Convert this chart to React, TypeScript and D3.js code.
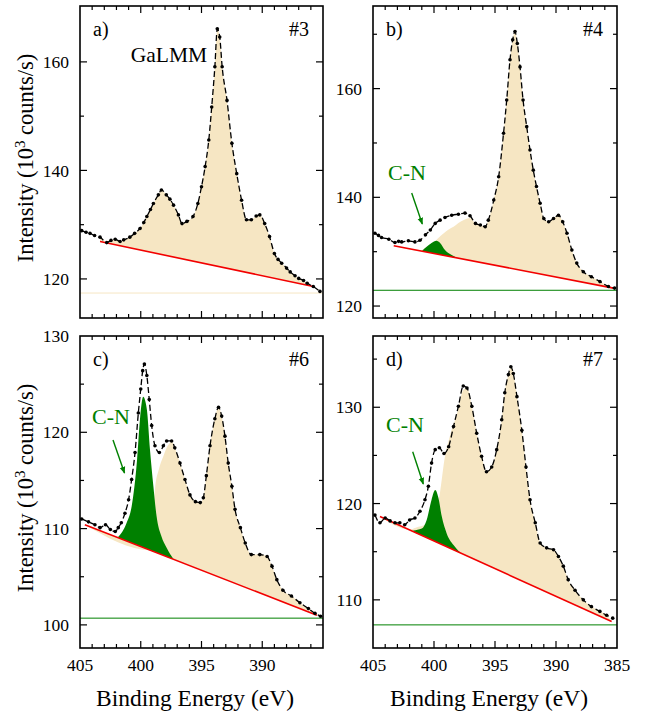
import React from "react";
import * as d3 from "d3";

type P = [number, number];

// ---------- data (binding energy eV, intensity 10^3 counts/s) ----------
const dataA: P[] = [[404.86,128.9],[404.5,128.6],[404.18,128.4],[403.8,128.0],[403.35,127.7],[402.8,126.7],[402.45,127.1],[402.1,127.3],[401.7,126.9],[401.4,127.2],[400.9,127.7],[400.5,128.4],[400.06,129.3],[399.75,130.4],[399.5,131.5],[399.2,132.8],[398.96,133.9],[398.55,135.5],[398.3,136.4],[397.9,135.5],[397.6,134.7],[397.3,133.6],[396.9,131.8],[396.6,130.2],[396.2,130.6],[395.7,131.5],[395.3,133.9],[395.0,137.0],[394.7,140.7],[394.4,145.6],[394.16,151.7],[393.9,159.1],[393.7,166.1],[393.5,164.6],[393.3,159.1],[392.9,152.9],[392.5,145.0],[392.1,139.4],[391.7,134.5],[391.3,130.9],[390.9,130.9],[390.5,131.6],[390.2,131.8],[389.8,130.2],[389.4,127.8],[389.0,124.7],[388.7,123.6],[388.4,122.9],[388.0,122.0],[387.7,121.3],[387.3,120.6],[387.0,120.1],[386.6,119.7],[386.3,119.2],[385.8,118.6],[385.25,117.7]];

const dataB: P[] = [[404.84,133.4],[404.55,133.0],[404.3,132.6],[403.7,132.3],[403.2,131.7],[402.9,131.9],[402.65,131.8],[402.1,132.0],[401.56,131.8],[401.15,132.1],[400.7,133.1],[400.3,134.0],[399.9,135.2],[399.5,135.8],[399.1,136.3],[398.55,136.7],[398.0,136.9],[397.46,137.1],[397.05,136.6],[396.6,135.2],[396.2,134.9],[395.8,134.6],[395.55,135.8],[395.1,139.5],[394.7,143.8],[394.3,151.8],[394.04,157.9],[393.77,165.3],[393.55,169.0],[393.36,170.5],[393.17,168.3],[392.95,164.0],[392.7,157.9],[392.4,153.0],[392.13,148.7],[391.86,145.0],[391.6,142.0],[391.3,138.9],[391.0,136.1],[390.6,135.5],[390.2,136.1],[389.8,136.7],[389.45,135.5],[389.1,133.4],[388.7,130.3],[388.3,127.9],[387.76,126.3],[387.1,125.4],[386.4,124.5],[385.7,123.6],[385.2,123.3]];

const dataC: P[] = [[404.86,111.0],[404.3,110.7],[403.77,110.4],[403.35,110.1],[402.9,110.4],[402.5,109.9],[402.1,109.7],[401.85,110.1],[401.6,110.6],[401.3,111.6],[401.0,113.0],[400.75,115.1],[400.47,117.9],[400.2,122.0],[400.0,124.5],[399.84,126.4],[399.7,127.1],[399.5,125.9],[399.3,123.4],[399.1,120.7],[398.83,118.6],[398.47,117.9],[398.14,118.6],[397.87,119.1],[397.46,119.1],[397.2,118.4],[396.77,116.8],[396.36,115.1],[395.95,113.5],[395.5,112.8],[395.1,112.7],[394.85,113.2],[394.6,115.5],[394.3,118.6],[393.9,121.4],[393.6,122.6],[393.34,121.7],[393.07,119.6],[392.8,116.8],[392.5,114.4],[392.24,112.0],[391.8,110.1],[391.4,108.5],[390.9,107.3],[390.2,107.3],[389.6,107.1],[389.2,106.1],[388.8,104.7],[388.3,103.6],[387.6,103.0],[386.9,102.3],[386.2,101.7],[385.66,101.2],[385.2,100.9]];

const dataD: P[] = [[404.84,118.8],[404.43,118.0],[404.0,118.5],[403.6,118.2],[403.2,118.0],[402.8,118.0],[402.4,117.8],[402.0,118.3],[401.56,118.5],[401.15,119.2],[400.74,120.4],[400.46,121.8],[400.2,124.2],[399.9,125.6],[399.56,125.8],[399.18,125.2],[398.8,125.9],[398.4,128.0],[398.0,130.1],[397.6,132.2],[397.3,132.0],[396.9,130.1],[396.5,127.3],[396.1,124.9],[395.7,123.3],[395.27,123.8],[394.86,125.6],[394.45,128.7],[394.2,131.5],[393.9,133.4],[393.7,134.2],[393.5,133.5],[393.2,131.1],[392.8,127.6],[392.46,123.8],[392.13,120.4],[391.7,118.0],[391.3,115.9],[390.77,115.4],[390.2,115.2],[389.8,114.5],[389.4,113.5],[389.0,112.1],[388.44,111.0],[387.76,110.0],[387.1,109.3],[386.4,108.8],[385.85,108.4],[385.35,108.1]];

// GaLMM envelope (left parts that depart from the data)
const gaLeftB: P[] = [[401.15,130.2],[400.6,130.9],[400.05,131.6],[399.6,132.6],[399.2,133.4],[398.8,134.1],[398.4,134.6],[398.0,135.3],[397.6,135.8],[397.05,136.2]];
const gaLeftC: P[] = [[399.15,107.75],[399.0,111.0],[398.83,114.1],[398.5,116.2],[398.14,117.5],[397.87,118.4],[397.6,118.9]];
const gaLeftD: P[] = [[402.0,117.3],[401.5,117.5],[400.6,117.9],[400.0,118.8],[399.7,119.8],[399.5,121.2],[399.1,124.9],[398.7,127.0],[398.1,129.4],[397.6,131.8]];

// C-N component
const cnB: P[] = [[401.0,130.1],[400.6,130.9],[400.2,131.6],[399.8,132.0],[399.5,131.6],[399.1,130.3],[398.55,129.4],[398.1,128.85]];
const cnC: P[] = [[401.9,109.05],[401.16,110.6],[400.75,112.3],[400.3,117.2],[400.06,121.4],[399.8,123.7],[399.5,122.4],[399.24,118.2],[398.96,114.4],[398.7,111.3],[398.3,109.2],[397.87,108.0],[397.3,106.8]];
const cnD: P[] = [[401.7,117.2],[401.0,117.4],[400.6,118.3],[400.2,120.4],[399.9,121.4],[399.64,120.6],[399.37,118.7],[398.96,116.9],[398.4,115.7],[397.87,114.95]];

// linear backgrounds (start, end)
const bgA: P[] = [[403.35,126.9],[385.8,118.6]];
const bgB: P[] = [[403.3,131.1],[385.3,123.3]];
const bgC: P[] = [[404.6,110.4],[385.5,101.0]];
const bgD: P[] = [[404.43,118.65],[385.44,107.75]];

const xMajor = [405, 400, 395, 390, 385];
const xMinor = d3.range(385, 406, 1);

const FONT = "'Liberation Serif', 'Times New Roman', serif";
const BEIGE = "#f6e6c3";
const GREEN = "#008000";
const RED = "#f20000";

interface PanelDef {
  key: string;
  box: { x0: number; x1: number; y0: number; y1: number };
  yDomain: [number, number];
  yMajor: number[];
  yMinor: number[];
  data: P[];
  ga: P[];
  cn: P[] | null;
  bg: P[];
  hLine: number;
  hColor: string;
  label: string;
  num: string;
  xLabels: number[];
  cnText: { x: number; y: number; ax1: number; ay1: number; ax2: number; ay2: number } | null;
}

const panels: PanelDef[] = [
  { key: "a", box: { x0: 80, x1: 323, y0: 6, y1: 318 }, yDomain: [112.8, 170.3], yMajor: [120, 140, 160], yMinor: [130, 150],
    data: dataA, ga: dataA, cn: null, bg: bgA, hLine: 117.4, hColor: BEIGE, label: "a)", num: "#3", xLabels: [], cnText: null },
  { key: "b", box: { x0: 373, x1: 617, y0: 6, y1: 318 }, yDomain: [117.8, 175.2], yMajor: [120, 140, 160], yMinor: [130, 150, 170],
    data: dataB, ga: [...gaLeftB, ...dataB.filter(p => p[0] < 397.0)], cn: cnB, bg: bgB, hLine: 122.9, hColor: GREEN, label: "b)", num: "#4", xLabels: [],
    cnText: { x: 407, y: 180, ax1: 411.7, ay1: 193, ax2: 422.3, ay2: 224 } },
  { key: "c", box: { x0: 80, x1: 323, y0: 336, y1: 648 }, yDomain: [97.6, 130], yMajor: [100, 110, 120, 130], yMinor: [105, 115, 125],
    data: dataC, ga: [...gaLeftC, ...dataC.filter(p => p[0] < 397.5)], cn: cnC, bg: bgC, hLine: 100.7, hColor: GREEN, label: "c)", num: "#6", xLabels: [405, 400, 395, 390],
    cnText: { x: 111, y: 424, ax1: 113, ay1: 440, ax2: 124.5, ay2: 473 } },
  { key: "d", box: { x0: 373, x1: 617, y0: 336, y1: 648 }, yDomain: [105.0, 137.4], yMajor: [110, 120, 130], yMinor: [115, 125, 135],
    data: dataD, ga: [...gaLeftD, ...dataD.filter(p => p[0] < 397.5)], cn: cnD, bg: bgD, hLine: 107.4, hColor: GREEN, label: "d)", num: "#7", xLabels: [405, 400, 395, 390, 385],
    cnText: { x: 405, y: 432, ax1: 412.7, ay1: 451.7, ax2: 423.3, ay2: 484 } },
];

function Panel({ p }: { p: PanelDef }) {
  const { x0, x1, y0, y1 } = p.box;
  const x = d3.scaleLinear().domain([405, 385]).range([x0, x1]);
  const y = d3.scaleLinear().domain(p.yDomain).range([y1, y0]);
  const [b0, b1] = p.bg;
  const bgAt = (e: number) => b0[1] + ((e - b0[0]) * (b1[1] - b0[1])) / (b1[0] - b0[0]);
  const inBg = (e: number) => e <= b0[0] && e >= b1[0];

  const gaPts = p.ga.filter(q => inBg(q[0]));
  const gaFull: P[] = [[b0[0], b0[1]], ...gaPts, [b1[0], b1[1]]];
  const areaGen = d3.area<P>()
    .x(d => x(d[0]))
    .y0(d => y(bgAt(d[0])))
    .y1(d => y(Math.max(d[1], bgAt(d[0]))))
    .curve(d3.curveMonotoneX);
  const lineGen = d3.line<P>().x(d => x(d[0])).y(d => y(d[1])).curve(d3.curveMonotoneX);
  const clipId = `clip-${p.key}`;

  const majorLen = 7, minorLen = 4;
  const ticks: JSX.Element[] = [];
  xMinor.forEach(v => {
    const isMaj = xMajor.includes(v);
    const L = isMaj ? majorLen : minorLen;
    const xx = x(v);
    if (xx <= x0 + 0.5 || xx >= x1 - 0.5) return;
    ticks.push(<line key={`xb${v}`} x1={xx} x2={xx} y1={y1} y2={y1 - L} />);
    ticks.push(<line key={`xt${v}`} x1={xx} x2={xx} y1={y0} y2={y0 + L} />);
  });
  [...p.yMajor.map(v => [v, majorLen]), ...p.yMinor.map(v => [v, minorLen])].forEach(([v, L]) => {
    const yy = y(v);
    if (yy <= y0 + 0.5 || yy >= y1 - 0.5) return;
    ticks.push(<line key={`yl${v}`} x1={x0} x2={x0 + L} y1={yy} y2={yy} />);
    ticks.push(<line key={`yr${v}`} x1={x1} x2={x1 - L} y1={yy} y2={yy} />);
  });

  return (
    <g>
      <defs>
        <clipPath id={clipId}><rect x={x0} y={y0} width={x1 - x0} height={y1 - y0} /></clipPath>
      </defs>
      <g clipPath={`url(#${clipId})`}>
        <line x1={x0} x2={x1} y1={y(p.hLine)} y2={y(p.hLine)} stroke={p.hColor} strokeWidth={1} />
        <path d={areaGen(gaFull) || ""} fill={BEIGE} />
        {p.cn && <path d={areaGen(p.cn) || ""} fill={GREEN} />}
        <line x1={x(b0[0])} y1={y(b0[1])} x2={x(b1[0])} y2={y(b1[1])} stroke={RED} strokeWidth={1.6} />
        <path d={lineGen(p.data) || ""} fill="none" stroke="#000" strokeWidth={1.3} strokeDasharray="6,3" />
        {p.data.map((d, i) => <circle key={i} cx={x(d[0])} cy={y(d[1])} r={1.8} fill="#000" />)}
      </g>
      <g stroke="#000" strokeWidth={1.2}>{ticks}</g>
      <rect x={x0} y={y0} width={x1 - x0} height={y1 - y0} fill="none" stroke="#000" strokeWidth={1.6} />
      {p.yMajor.map(v => (
        <text key={`yt${v}`} x={x0 - 11} y={y(v)} dy="0.35em" textAnchor="end" fontSize={17.5} fontFamily={FONT}>{v}</text>
      ))}
      {p.xLabels.map(v => (
        <text key={`xl${v}`} x={x(v)} y={y1 + 23} textAnchor="middle" fontSize={17.5} fontFamily={FONT}>{v}</text>
      ))}
      <text x={x0 + 13} y={y0 + 30} fontSize={20} fontFamily={FONT}>{p.label}</text>
      <text x={x1 - 14} y={y0 + 30} textAnchor="end" fontSize={20} fontFamily={FONT}>{p.num}</text>
      {p.cnText && (
        <g>
          <text x={p.cnText.x} y={p.cnText.y} textAnchor="middle" fontSize={22} fontFamily={FONT} fill={GREEN}>C-N</text>
          <line x1={p.cnText.ax1} y1={p.cnText.ay1} x2={p.cnText.ax2} y2={p.cnText.ay2} stroke={GREEN} strokeWidth={1.4} markerEnd="url(#arrowG)" />
        </g>
      )}
    </g>
  );
}

export default function App() {
  return (
    <svg width={646} height={716} style={{ position: "absolute", left: 0, top: 0, background: "#fff" }}>
      <defs>
        <marker id="arrowG" viewBox="0 0 10 10" refX="9" refY="5" markerWidth="7" markerHeight="7" orient="auto" markerUnits="userSpaceOnUse">
          <path d="M0,1 L10,5 L0,9 z" fill={GREEN} />
        </marker>
      </defs>
      <rect x={0} y={0} width={646} height={716} fill="#fff" />
      {panels.map(p => <Panel key={p.key} p={p} />)}
      <text x={169} y={62} fontSize={21.5} fontFamily={FONT} textAnchor="middle">GaLMM</text>
      <text transform="translate(33,158) rotate(-90)" textAnchor="middle" fontSize={22.5} fontFamily={FONT}>
        Intensity (10<tspan dy="-8" fontSize={15}>3</tspan><tspan dy="8"> counts/s)</tspan>
      </text>
      <text transform="translate(33,488) rotate(-90)" textAnchor="middle" fontSize={22.5} fontFamily={FONT}>
        Intensity (10<tspan dy="-8" fontSize={15}>3</tspan><tspan dy="8"> counts/s)</tspan>
      </text>
      <text x={195} y={706} textAnchor="middle" fontSize={23.5} fontFamily={FONT}>Binding Energy (eV)</text>
      <text x={489} y={706} textAnchor="middle" fontSize={23.5} fontFamily={FONT}>Binding Energy (eV)</text>
    </svg>
  );
}
